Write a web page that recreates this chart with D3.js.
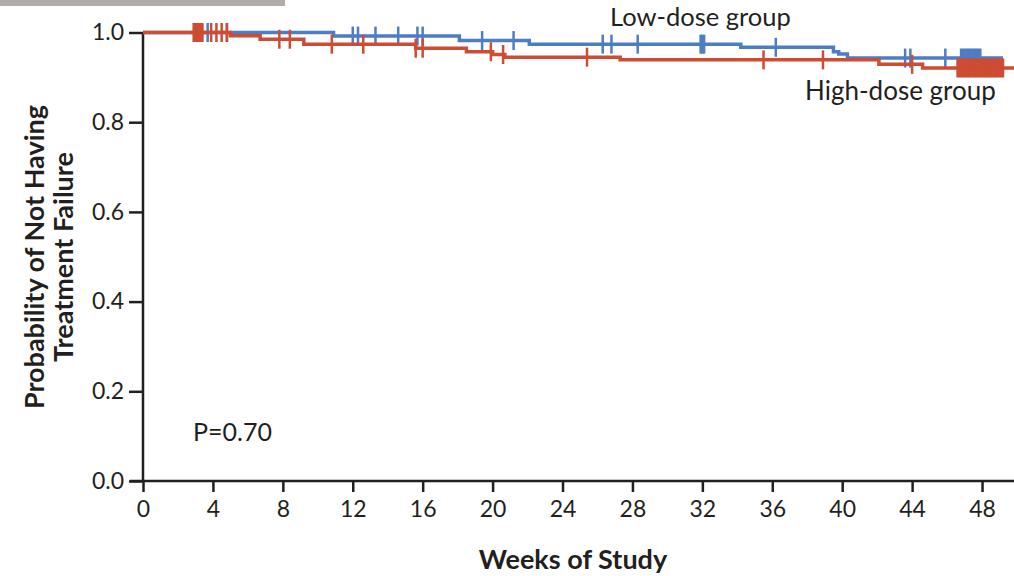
<!DOCTYPE html>
<html lang="en">
<head>
  <meta charset="utf-8">
  <title>Treatment failure by dose group</title>
  <script src="https://d3js.org/d3.v7.min.js"></script>
  <style>
    body { margin: 0; background: #fff; }
    svg { display: block; font-family: Lato, "Open Sans", sans-serif; }
    .axis path, .axis line { stroke: #231f20; stroke-width: 2.5px; }
    .axis text { font-family: Lato, "Open Sans", sans-serif; font-size: 23px; fill: #231f20; }
  </style>
</head>
<body>
  <svg width="1014" height="576"></svg>
  <script>
    // Kaplan-Meier steps
    const lowTimes = [0, 10.9, 18.1, 22.1, 34.2, 39.5, 39.8, 40.3];
    const lowSurv  = [1, 0.992, 0.982, 0.974, 0.967, 0.957, 0.952, 0.943];
    const lowEnd = 49.2;
    const lowCensor = [3.7, 4.8, 12.0, 12.3, 13.3, 14.6, 15.7, 16.0, 19.4, 21.2, 26.3, 26.8,
                       28.3, 31.9, 32.0, 32.1, 36.2, 43.6, 43.9, 45.9,
                       46.8, 46.9, 47.0, 47.1, 47.2, 47.3, 47.4, 47.5, 47.6, 47.7, 47.8, 47.9];

    const highTimes = [0, 5.0, 6.7, 9.2, 15.6, 18.5, 20.0, 20.7, 27.3, 42.1, 44.6];
    const highSurv  = [1, 0.993, 0.985, 0.974, 0.965, 0.957, 0.951, 0.945, 0.939, 0.929, 0.921];
    const highEnd = 50;
    const highCensor = [2.9, 3.0, 3.1, 3.2, 3.3, 3.4, 3.9, 4.2, 4.5, 4.8, 7.8, 8.4, 10.8, 12.6,
                        15.6, 16.0, 19.9, 20.6, 25.4, 35.5, 38.9, 44.0,
                        46.6, 46.7, 46.8, 46.9, 47.0, 47.1, 47.2, 47.3, 47.4, 47.5, 47.6, 47.7,
                        47.8, 47.9, 48.0, 48.1, 48.2, 48.3, 48.4, 48.5, 48.6, 48.7, 48.8, 48.9,
                        49.0, 49.1, 49.2];

    const xTicks = [0, 4, 8, 12, 16, 20, 24, 28, 32, 36, 40, 44, 48];
    const yTicks = [0, 0.2, 0.4, 0.6, 0.8, 1.0];

    const blue = "#4d7dc4";
    const red = "#cd4c33";

    const svg = d3.select("svg");

    // grey strip at the top left
    svg.append("rect")
      .attr("x", 0).attr("y", 0)
      .attr("width", 285).attr("height", 6)
      .attr("fill", "#b2acaa");

    const x = d3.scaleLinear().domain([0, 50]).range([143, 1017]);
    const y = d3.scaleLinear().domain([0, 1]).range([481, 32.5]);

    // axes
    svg.append("g")
      .attr("class", "axis")
      .attr("transform", "translate(0,481)")
      .call(d3.axisBottom(x).tickValues(xTicks).tickSize(11).tickSizeOuter(0).tickPadding(9))
      .call(g => g.select(".domain").attr("d", "M130,0H1014"));

    svg.append("g")
      .attr("class", "axis")
      .attr("transform", "translate(143,0)")
      .call(d3.axisLeft(y).tickValues(yTicks).tickFormat(d3.format(".1f")).tickSize(14).tickSizeOuter(0).tickPadding(5))
      .call(g => g.select(".domain").attr("d", "M0,32.5V481"));

    // survival curves
    function steps(times, surv, end) {
      const pts = times.map((t, i) => [t, surv[i]]);
      pts.push([end, surv[surv.length - 1]]);
      return pts;
    }
    function survAt(times, surv, t) {
      const i = d3.bisectRight(times, t) - 1;
      return surv[Math.max(0, i)];
    }

    const line = d3.line()
      .x(d => x(d[0]))
      .y(d => y(d[1]))
      .curve(d3.curveStepAfter);

    const groups = [
      { times: lowTimes, surv: lowSurv, end: lowEnd, censor: lowCensor, color: blue },
      { times: highTimes, surv: highSurv, end: highEnd, censor: highCensor, color: red }
    ];

    groups.forEach(g => {
      svg.append("path")
        .datum(steps(g.times, g.surv, g.end))
        .attr("d", line)
        .attr("fill", "none")
        .attr("stroke", g.color)
        .attr("stroke-width", 3.5);

      svg.append("g")
        .selectAll("line")
        .data(g.censor)
        .join("line")
          .attr("x1", d => x(d)).attr("x2", d => x(d))
          .attr("y1", d => y(survAt(g.times, g.surv, d)) - 9.5)
          .attr("y2", d => y(survAt(g.times, g.surv, d)) + 9.5)
          .attr("stroke", g.color)
          .attr("stroke-width", 2.5);
    });

    // labels
    svg.append("text")
      .attr("x", 610).attr("y", 26)
      .attr("font-size", 25.5).attr("fill", "#231f20")
      .text("Low-dose group");

    svg.append("text")
      .attr("x", 805).attr("y", 100)
      .attr("font-size", 26).attr("fill", "#231f20")
      .text("High-dose group");

    svg.append("text")
      .attr("x", 193).attr("y", 441)
      .attr("font-size", 25).attr("fill", "#231f20")
      .text("P=0.70");

    svg.append("text")
      .attr("x", 573).attr("y", 569)
      .attr("text-anchor", "middle")
      .attr("font-size", 27).attr("font-weight", "bold").attr("fill", "#231f20")
      .text("Weeks of Study");

    const ylab = svg.append("text")
      .attr("transform", "translate(0,257) rotate(-90)")
      .attr("text-anchor", "middle")
      .attr("font-size", 27).attr("font-weight", "bold").attr("fill", "#231f20");
    ylab.append("tspan").attr("x", 0).attr("y", 44).text("Probability of Not Having");
    ylab.append("tspan").attr("x", 0).attr("y", 73).text("Treatment Failure");
  </script>
</body>
</html>
